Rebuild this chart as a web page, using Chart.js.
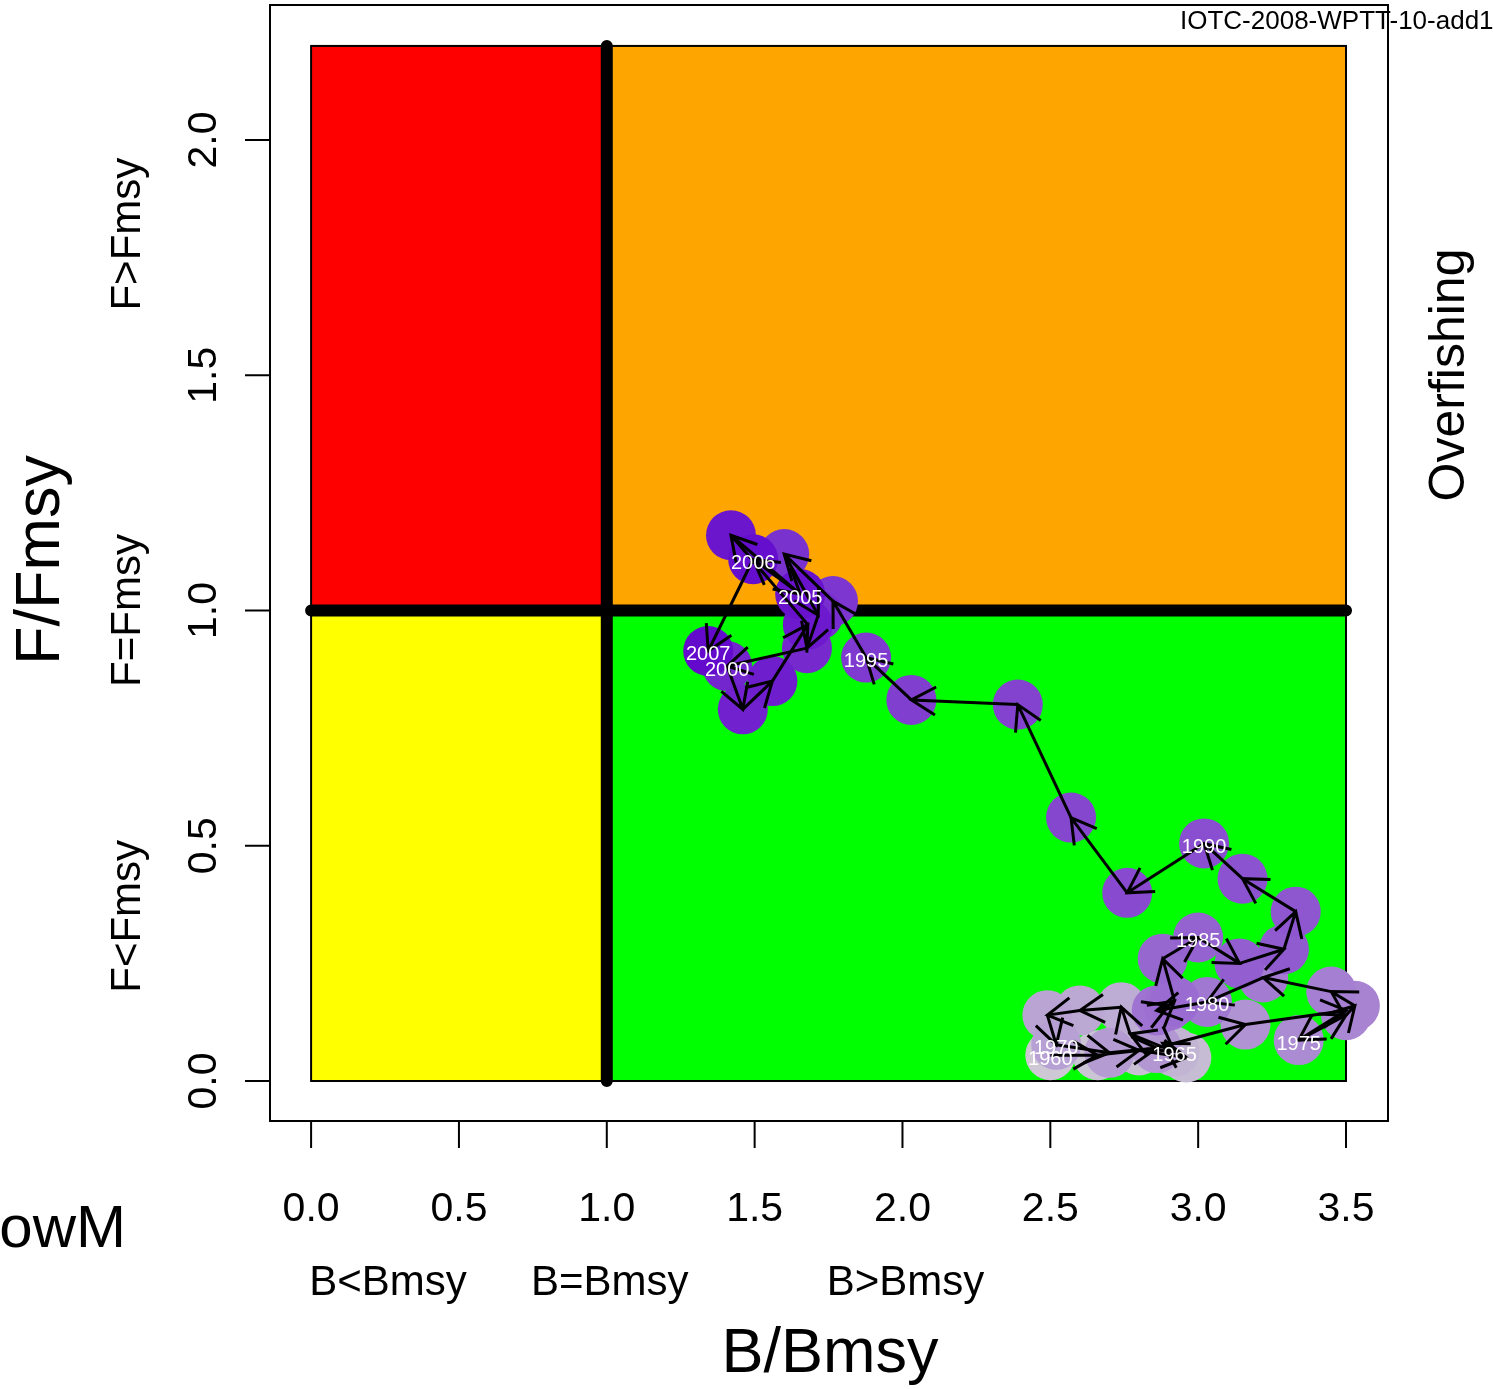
<!DOCTYPE html>
<html>
<head>
<meta charset="utf-8">
<script src="https://cdn.jsdelivr.net/npm/chart.js@4.4.1/dist/chart.umd.min.js"></script>
<style>
  body { margin: 0; background: #fff; }
  canvas { display: block; }
</style>
</head>
<body>
<canvas id="kobe" width="1493" height="1389"></canvas>
<script>
// stock trajectory, one point per year
const years = [1960, 1961, 1962, 1963, 1964, 1965, 1966, 1967, 1968, 1969,
               1970, 1971, 1972, 1973, 1974, 1975, 1976, 1977, 1978, 1979,
               1980, 1981, 1982, 1983, 1984, 1985, 1986, 1987, 1988, 1989,
               1990, 1991, 1992, 1993, 1994, 1995, 1996, 1997, 1998, 1999,
               2000, 2001, 2002, 2003, 2004, 2005, 2006, 2007];
const bRatio = [2.50, 2.66, 2.80, 2.96, 2.88, 2.92, 2.77, 2.74, 2.60, 2.49,
                2.52, 2.70, 2.86, 3.16, 3.50, 3.34, 3.50, 3.53, 3.45, 3.22,
                3.03, 2.86, 2.90, 2.92, 2.88, 3.00, 3.14, 3.29, 3.33, 3.15,
                3.02, 2.76, 2.57, 2.39, 2.03, 1.877, 1.765, 1.60, 1.715, 1.677,
                1.407, 1.46, 1.56, 1.68, 1.42, 1.654, 1.495, 1.343];
const fRatio = [0.055, 0.055, 0.065, 0.05, 0.08, 0.062, 0.10, 0.157, 0.15, 0.14,
                0.077, 0.06, 0.07, 0.12, 0.15, 0.087, 0.14, 0.16, 0.19, 0.22,
                0.168, 0.15, 0.16, 0.17, 0.26, 0.305, 0.25, 0.28, 0.36, 0.43,
                0.505, 0.40, 0.56, 0.80, 0.81, 0.90, 1.02, 1.12, 0.99, 0.92,
                0.882, 0.79, 0.85, 0.97, 1.16, 1.035, 1.109, 0.914];
const labelledYears = [1960, 1965, 1970, 1975, 1980, 1985, 1990, 1995, 2000, 2005, 2006, 2007];

const xTicks = [0, 0.5, 1, 1.5, 2, 2.5, 3, 3.5];
const xTickLabels = ["0.0", "0.5", "1.0", "1.5", "2.0", "2.5", "3.0", "3.5"];
const yTicks = [0, 0.5, 1, 1.5, 2];
const yTickLabels = ["0.0", "0.5", "1.0", "1.5", "2.0"];

const bMax = 3.5, fMax = 2.2;
const FONT = '"Liberation Sans", Arial, sans-serif';

// grey -> purple ramp through the years
function yearColour(i) {
  const t = i / (years.length - 1);
  const a = [205, 200, 212], b = [100, 10, 205];
  const c = a.map((v, k) => Math.round(v + (b[k] - v) * t));
  return `rgb(${c[0]},${c[1]},${c[2]})`;
}
const colours = years.map((y, i) => yearColour(i));

const points = years.map((y, i) => ({ x: bRatio[i], y: fRatio[i] }));

function rotText(ctx, txt, x, y, size) {
  ctx.save();
  ctx.translate(x, y);
  ctx.rotate(-Math.PI / 2);
  ctx.font = `${size}px ${FONT}`;
  ctx.textAlign = 'center';
  ctx.textBaseline = 'middle';
  ctx.fillText(txt, 0, 0);
  ctx.restore();
}

const kobeBackground = {
  id: 'kobeBackground',
  beforeDatasetsDraw(chart) {
    const { ctx, scales: { x, y } } = chart;
    const x0 = x.getPixelForValue(0), x1 = x.getPixelForValue(1), x2 = x.getPixelForValue(bMax);
    const y0 = y.getPixelForValue(0), y1 = y.getPixelForValue(1), y2 = y.getPixelForValue(fMax);
    ctx.save();
    const quads = [
      [x0, y2, x1, y1, '#ff0000'],
      [x1, y2, x2, y1, '#ffa500'],
      [x0, y1, x1, y0, '#ffff00'],
      [x1, y1, x2, y0, '#00ff00']
    ];
    ctx.lineWidth = 2;
    ctx.strokeStyle = '#000';
    quads.forEach(([l, t, r, b, c]) => {
      ctx.fillStyle = c;
      ctx.fillRect(l, t, r - l, b - t);
      ctx.strokeRect(l, t, r - l, b - t);
    });
    // reference lines at B=Bmsy and F=Fmsy
    ctx.lineWidth = 12;
    ctx.lineCap = 'round';
    ctx.beginPath();
    ctx.moveTo(x1, y0); ctx.lineTo(x1, y2);
    ctx.moveTo(x0, y1); ctx.lineTo(x2, y1);
    ctx.stroke();
    ctx.restore();
  },
  afterDatasetsDraw(chart) {
    const { ctx, chartArea: ca, scales: { x, y } } = chart;
    ctx.save();

    // year to year arrows
    ctx.strokeStyle = '#000';
    ctx.lineWidth = 3;
    ctx.lineCap = 'butt';
    const head = 28, ang = Math.PI / 6;
    for (let i = 0; i < years.length - 1; i++) {
      const ax = x.getPixelForValue(bRatio[i]), ay = y.getPixelForValue(fRatio[i]);
      const bx = x.getPixelForValue(bRatio[i + 1]), by = y.getPixelForValue(fRatio[i + 1]);
      const th = Math.atan2(by - ay, bx - ax);
      ctx.beginPath();
      ctx.moveTo(ax, ay); ctx.lineTo(bx, by);
      ctx.moveTo(bx - head * Math.cos(th - ang), by - head * Math.sin(th - ang));
      ctx.lineTo(bx, by);
      ctx.lineTo(bx - head * Math.cos(th + ang), by - head * Math.sin(th + ang));
      ctx.stroke();
    }

    // year labels
    ctx.fillStyle = '#fff';
    ctx.font = `20px ${FONT}`;
    ctx.textAlign = 'center';
    ctx.textBaseline = 'middle';
    labelledYears.forEach(yr => {
      const i = years.indexOf(yr);
      ctx.fillText(String(yr), x.getPixelForValue(bRatio[i]), y.getPixelForValue(fRatio[i]) + 4);
    });

    // plot frame
    ctx.strokeStyle = '#000';
    ctx.lineWidth = 2;
    ctx.strokeRect(ca.left, ca.top, ca.right - ca.left, ca.bottom - ca.top);

    // axes
    ctx.fillStyle = '#000';
    ctx.beginPath();
    xTicks.forEach(v => {
      const px = x.getPixelForValue(v);
      ctx.moveTo(px, ca.bottom); ctx.lineTo(px, ca.bottom + 27);
    });
    yTicks.forEach(v => {
      const py = y.getPixelForValue(v);
      ctx.moveTo(ca.left, py); ctx.lineTo(ca.left - 25, py);
    });
    ctx.stroke();

    ctx.font = `41px ${FONT}`;
    ctx.textAlign = 'center';
    ctx.textBaseline = 'middle';
    xTicks.forEach((v, i) => ctx.fillText(xTickLabels[i], x.getPixelForValue(v), 1210));
    yTicks.forEach((v, i) => rotText(ctx, yTickLabels[i], 205, y.getPixelForValue(v), 41));

    // zone labels
    ctx.font = `42px ${FONT}`;
    ctx.fillText('B<Bmsy', x.getPixelForValue(0.26), 1283);
    ctx.fillText('B=Bmsy', x.getPixelForValue(1.01), 1283);
    ctx.fillText('B>Bmsy', x.getPixelForValue(2.01), 1283);
    rotText(ctx, 'F>Fmsy', 128, y.getPixelForValue(1.80), 42);
    rotText(ctx, 'F=Fmsy', 128, y.getPixelForValue(1.0), 42);
    rotText(ctx, 'F<Fmsy', 128, y.getPixelForValue(0.35), 42);

    // titles
    ctx.font = `63px ${FONT}`;
    ctx.fillText('B/Bmsy', 830, 1355);
    rotText(ctx, 'F/Fmsy', 42, 560, 63);
    rotText(ctx, 'Overfishing', 1450, 375, 50);

    ctx.font = `60px ${FONT}`;
    ctx.textAlign = 'right';
    ctx.fillText('LowM', 126, 1230);

    ctx.font = `26px ${FONT}`;
    ctx.textAlign = 'left';
    ctx.fillText('IOTC-2008-WPTT-10-add1', 1180, 22);
    ctx.restore();
  }
};

new Chart(document.getElementById('kobe'), {
  type: 'scatter',
  data: {
    datasets: [{
      data: points,
      pointRadius: 25,
      pointHoverRadius: 25,
      pointBackgroundColor: colours,
      pointBorderColor: colours,
      pointBorderWidth: 0,
      showLine: false
    }]
  },
  options: {
    responsive: false,
    animation: false,
    events: [],
    layout: { autoPadding: false, padding: { left: 270, right: 105, top: 5, bottom: 268 } },
    plugins: { legend: { display: false }, tooltip: { enabled: false } },
    scales: {
      x: { type: 'linear', min: -0.139, max: 3.642, display: false },
      y: { type: 'linear', min: -0.085, max: 2.287, display: false }
    }
  },
  plugins: [kobeBackground]
});
</script>
</body>
</html>
